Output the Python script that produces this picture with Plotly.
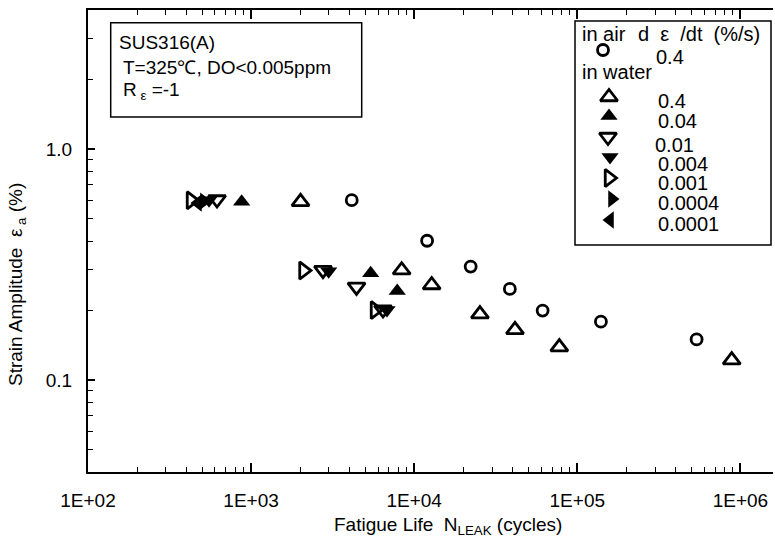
import plotly.graph_objects as go

# ---------------- data ----------------
air_N   = [4140, 12000, 22200, 38600, 61300, 139600, 539000]
air_eps = [0.601, 0.401, 0.310, 0.248, 0.200, 0.179, 0.150]

w04_N   = [2010, 8380, 12800, 25300, 41500, 77600, 885000]      # 0.4 %/s  (open up-triangle)
w04_eps = [0.591, 0.299, 0.258, 0.193, 0.165, 0.139, 0.122]

w004_N   = [875, 5410, 7870]                                      # 0.04 %/s (filled up-triangle)
w004_eps = [0.591, 0.290, 0.243]

w001_N   = [618, 2760, 4430, 6440]                                # 0.01 %/s (open down-triangle)
w001_eps = [0.605, 0.299, 0.253, 0.202]

w0004_N   = [552, 2990, 6810]                                     # 0.004 %/s (filled down-triangle)
w0004_eps = [0.601, 0.296, 0.201]

w0001_N   = [428, 2095, 5750]                                     # 0.001 %/s (open right-triangle)
w0001_eps = [0.600, 0.298, 0.201]

w00004_N   = [514]                                                # 0.0004 %/s (filled right-triangle)
w00004_eps = [0.595]

w00001_N   = [472]                                                # 0.0001 %/s (filled left-triangle)
w00001_eps = [0.584]

rate_labels = ["0.4", "0.04", "0.01", "0.004", "0.001", "0.0004", "0.0001"]
x_tickvals = [1e2, 1e3, 1e4, 1e5, 1e6]
x_ticktext = ["1E+02", "1E+03", "1E+04", "1E+05", "1E+06"]
y_tickvals = [0.1, 1.0]
y_ticktext = ["0.1", "1.0"]

# ---------------- layout helpers ----------------
W, H = 775, 544
L, R, T, B = 88, 773, 10, 472
FONT = "Liberation Sans"
FS = 19
LFS = 20

def px(x):
    return (x - L) / (R - L)

def py(y):
    return (B - y) / (B - T)

fig = go.Figure()

SYM = ["triangle-up-open", "triangle-up", "triangle-down-open", "triangle-down",
       "triangle-right-open", "triangle-right", "triangle-left"]
TRI = 15
LW = 2.8

def add(xs, ys, sym, size=TRI):
    fig.add_trace(go.Scatter(
        x=xs, y=ys, mode="markers", showlegend=False, hoverinfo="skip",
        marker=dict(symbol=sym, size=size, color="black",
                    line=dict(color="black", width=LW if sym.endswith("open") else 0))))

add(air_N, air_eps, "circle-open", 11)
add(w04_N, w04_eps, SYM[0])
add(w004_N, w004_eps, SYM[1])
add(w001_N, w001_eps, SYM[2])
add(w0004_N, w0004_eps, SYM[3])
add(w0001_N, w0001_eps, SYM[4])
add(w00004_N, w00004_eps, SYM[5])
add(w00001_N, w00001_eps, SYM[6])

# ---------------- legend (drawn in an overlay 0..1 frame) ----------------
leg_sym_px = [(609, 97), (609, 116), (608, 137), (610, 157),
              (609, 178), (612, 199), (610, 220)]
for (sx, sy), s in zip(leg_sym_px, SYM):
    fig.add_trace(go.Scatter(
        x=[px(sx)], y=[py(sy)], xaxis="x2", yaxis="y2", mode="markers",
        showlegend=False, hoverinfo="skip",
        marker=dict(symbol=s, size=TRI, color="black",
                    line=dict(color="black", width=LW if s.endswith("open") else 0))))
fig.add_trace(go.Scatter(
    x=[px(603)], y=[py(50)], xaxis="x2", yaxis="y2", mode="markers",
    showlegend=False, hoverinfo="skip",
    marker=dict(symbol="circle-open", size=11, color="black", line=dict(width=LW))))

ann = []

def text(x, y, s, anchor="left", size=FS, **kw):
    ann.append(dict(x=px(x), y=py(y), xref="paper", yref="paper", text=s,
                    showarrow=False, xanchor=anchor, yanchor="middle",
                    font=dict(family=FONT, size=size, color="black"), **kw))

leg_lab_px = [(656, 101), (656, 121), (653, 145), (656, 164),
              (656, 183), (656, 203), (656, 224)]
for (lx, ly), t in zip(leg_lab_px, rate_labels):
    text(lx, ly, t, size=LFS)
text(580, 34, "in air", size=LFS)
text(636, 34, "d  ε  /dt  (%/s)", size=LFS)
text(654, 57, "0.4", size=LFS)
text(580, 72, "in water", size=LFS)

# condition box text
text(117, 43, "SUS316(A)")
text(121, 67, "T=325℃, DO<0.005ppm")
text(121, 91, "R<sub> ε</sub> =-1")

# axis titles
text(448, 526, "Fatigue Life  N<sub>LEAK</sub> (cycles)", anchor="center")
ann.append(dict(x=px(17), y=py(285), xref="paper", yref="paper",
                text="Strain Amplitude  ε<sub> a</sub> (%)", textangle=-90,
                showarrow=False, xanchor="center", yanchor="middle",
                font=dict(family=FONT, size=FS, color="black")))

shapes = [
    dict(type="rect", xref="paper", yref="paper", x0=px(575), x1=px(771),
         y0=py(245), y1=py(21), line=dict(color="black", width=1.5)),
    dict(type="rect", xref="paper", yref="paper", x0=px(110.7), x1=px(361.7),
         y0=py(117), y1=py(22.7), line=dict(color="black", width=1.5)),
]

fig.update_layout(
    width=W, height=H,
    margin=dict(l=L, r=W - R, t=T, b=H - B),
    paper_bgcolor="white", plot_bgcolor="white",
    font=dict(family=FONT, size=FS, color="black"),
    annotations=ann, shapes=shapes,
    xaxis=dict(type="log", range=[2, 6.2], showgrid=False, zeroline=False,
               showline=True, linecolor="black", linewidth=2, mirror="ticks",
               ticks="inside", ticklen=9, tickwidth=1.5, tickcolor="black",
               tickmode="array", tickvals=x_tickvals, ticktext=x_ticktext,
               ticklabelstandoff=10,
               minor=dict(ticks="inside", ticklen=5, tickwidth=1.2,
                          tickcolor="black", dtick="D1", showgrid=False)),
    yaxis=dict(type="log", range=[-1.39794, 0.60206], showgrid=False, zeroline=False,
               showline=True, linecolor="black", linewidth=2, mirror=False,
               ticks="inside", ticklen=7, tickwidth=1.5, tickcolor="black",
               tickmode="array", tickvals=y_tickvals, ticktext=y_ticktext,
               ticklabelstandoff=10,
               minor=dict(ticks="inside", ticklen=5, tickwidth=1.2,
                          tickcolor="black", dtick="D1", showgrid=False)),
    xaxis2=dict(overlaying="x", range=[0, 1], visible=False, anchor="y2"),
    yaxis2=dict(overlaying="y", range=[0, 1], visible=False, anchor="x2"),
)

fig.write_html("out.html", config={"displayModeBar": False},
               post_script="document.body.style.margin='0px';")
